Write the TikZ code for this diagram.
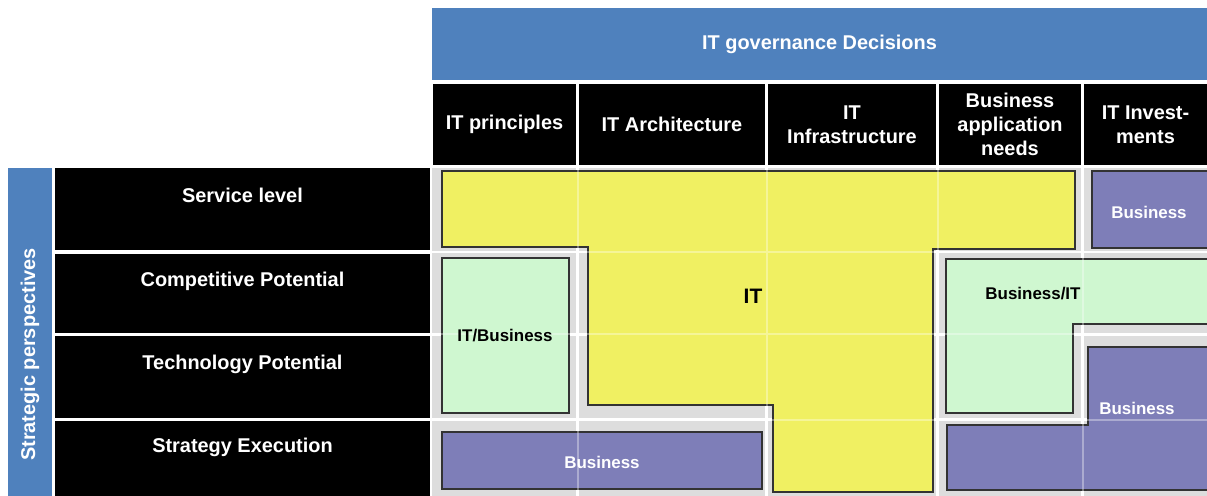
\documentclass[tikz,border=0pt]{standalone}
\usepackage{fontspec}
\setmainfont{Liberation Sans}
\usetikzlibrary{positioning}
\definecolor{hdrblue}{RGB}{79,129,189}
\definecolor{gridgray}{RGB}{221,221,221}
\definecolor{ityellow}{RGB}{240,240,98}
\definecolor{mixgreen}{RGB}{207,247,208}
\definecolor{bizpurple}{RGB}{126,126,184}
\tikzset{
  x=1bp, y=-1bp,
}
\tikzstyle{every node}=[font=\fontsize{20}{24}\selectfont\bfseries, inner sep=0pt]
\tikzstyle{blackcell}=[fill=black, text=white, align=center]
\tikzstyle{bluecell}=[fill=hdrblue, text=white]
\tikzstyle{area}=[draw=black!80, line width=1.2bp]
\tikzstyle{cellname}=[font=\fontsize{17}{20}\selectfont\bfseries]

\begin{document}
\begin{tikzpicture}
    \useasboundingbox (0,0) rectangle (1207,496);
    % decisions along the top
    \node[bluecell, minimum width=775bp, minimum height=72bp] (gov) at (819.5,44) {IT governance Decisions};
    \node[blackcell, minimum width=143bp, minimum height=81bp] (c1) at (504.5,124.5) {IT principles};
    \node[blackcell, minimum width=186bp, minimum height=81bp] (c2) at (672,124.5) {IT Architecture};
    \node[blackcell, minimum width=168bp, minimum height=81bp] (c3) at (852,124.5) {IT\\Infrastructure};
    \node[blackcell, minimum width=142bp, minimum height=81bp] (c4) at (1010,124.5) {Business\\application\\needs};
    \node[blackcell, minimum width=123bp, minimum height=81bp] (c5) at (1145.5,124.5) {IT Invest-\\ments};
    % perspectives down the side
    \node[bluecell, minimum width=373bp, minimum height=44bp, rotate=90] (persp) at (30,354.5) {Strategic perspectives};
    \node[blackcell, minimum width=375bp, minimum height=82bp] (r1) at (242.5,209) {};
    \node[blackcell, minimum width=375bp, minimum height=79bp] (r2) at (242.5,293.5) {};
    \node[blackcell, minimum width=375bp, minimum height=82bp] (r3) at (242.5,377) {};
    \node[blackcell, minimum width=375bp, minimum height=80bp] (r4) at (242.5,461) {};
    \node[text=white, below=20bp of r1.north] (r1t) {Service level};
    \node[text=white, below=18bp of r2.north] (r2t) {Competitive Potential};
    \node[text=white, below=19bp of r3.north] (r3t) {Technology Potential};
    \node[text=white, below=17bp of r4.north] (r4t) {Strategy Execution};
    % matrix background and grid
    \fill[gridgray] (432,168) rectangle (1207,496);
    \draw[white, line width=2.5bp] (577.5,168)--(577.5,496) (766.5,168)--(766.5,496)
      (937.5,168)--(937.5,496) (1082.5,168)--(1082.5,496)
      (432,252)--(1207,252) (432,334.5)--(1207,334.5) (432,419.5)--(1207,419.5);
    % who decides
    \begin{scope}
    \clip (432,168) rectangle (1207,496);
    \filldraw[area, fill=ityellow] (442,171)--(1075,171)--(1075,249)--(933,249)--(933,492)
      --(773,492)--(773,405)--(588,405)--(588,247)--(442,247)--cycle;
    \filldraw[area, fill=mixgreen] (442,258) rectangle (569,413);
    \filldraw[area, fill=bizpurple] (442,432) rectangle (762,489);
    \filldraw[area, fill=bizpurple] (1092,171) rectangle (1212,248);
    \filldraw[area, fill=mixgreen] (946,259)--(1212,259)--(1212,324)--(1073,324)--(1073,413)
      --(946,413)--cycle;
    \filldraw[area, fill=bizpurple] (1088,347)--(1212,347)--(1212,490)--(947,490)--(947,425)
      --(1088,425)--cycle;
    \draw[white, opacity=.35, line width=2bp] (577.5,168)--(577.5,496) (766.5,168)--(766.5,496)
      (937.5,168)--(937.5,496) (1082.5,168)--(1082.5,496)
      (432,252)--(1207,252) (432,334.5)--(1207,334.5) (432,419.5)--(1207,419.5);
    \end{scope}
    \node[font=\fontsize{21}{24}\selectfont\bfseries] (it) at (753,296) {IT};
    \node[cellname] (itbiz) at (505,336) {IT/Business};
    \node[cellname] (bizit) at (1033,294) {Business/IT};
    \node[cellname, text=white] (biz1) at (602,462) {Business};
    \node[cellname, text=white] (biz2) at (1149,212) {Business};
    \node[cellname, text=white] (biz3) at (1137,408) {Business};
  \end{tikzpicture}
\end{document}
